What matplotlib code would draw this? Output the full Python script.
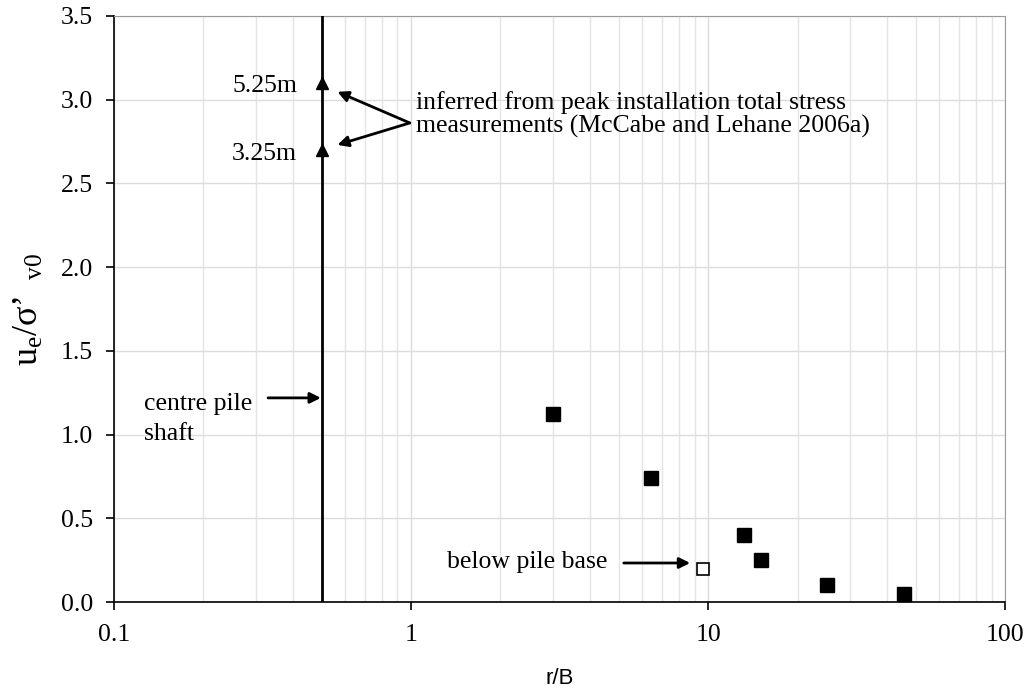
import matplotlib
matplotlib.use("Agg")
import matplotlib.pyplot as plt
from matplotlib.ticker import LogLocator, FixedLocator, FuncFormatter

plt.rcParams['font.family'] = ['Liberation Serif', 'DejaVu Serif']
plt.rcParams['mathtext.fontset'] = 'custom'
plt.rcParams['mathtext.rm'] = 'Liberation Serif'
plt.rcParams['mathtext.it'] = 'Liberation Serif:italic'

# Excess pore pressure around the pile (closed) and below the pile base (open)
r_over_b = [3.0, 6.4, 13.2, 15.1, 25.2, 45.6]
ue_ratio = [1.12, 0.74, 0.40, 0.25, 0.10, 0.05]
base_r_over_b = [9.6]
base_ue_ratio = [0.20]

# Values inferred from peak installation total stress at the pile shaft
shaft_r_over_b = [0.5, 0.5]
shaft_ue_ratio = [3.10, 2.70]
shaft_depths = ['5.25m', '3.25m']

FS = 18.5

fig = plt.figure(figsize=(10.32, 6.93), dpi=100)
ax = fig.add_axes([0.1105, 0.1313, 0.8635, 0.8457])

ax.set_xscale('log')
ax.set_xlim(0.1, 100)
ax.set_ylim(0, 3.5)

ax.xaxis.set_major_locator(LogLocator(base=10))
ax.xaxis.set_minor_locator(LogLocator(base=10, subs=range(2, 10)))
ax.xaxis.set_major_formatter(FuncFormatter(lambda v, p: f"{v:g}"))
ax.xaxis.set_minor_formatter(FuncFormatter(lambda v, p: ""))
ax.yaxis.set_major_locator(FixedLocator([0, 0.5, 1.0, 1.5, 2.0, 2.5, 3.0, 3.5]))
ax.yaxis.set_major_formatter(FuncFormatter(lambda v, p: f"{v:.1f}"))

ax.grid(True, which='major', color='#dcdcdc', lw=1.0)
ax.grid(True, which='minor', axis='x', color='#e4e4e4', lw=1.0)
ax.set_axisbelow(True)

for side in ['top', 'right']:
    ax.spines[side].set_color('#9a9a9a')
for side in ['left', 'bottom']:
    ax.spines[side].set_color('black')
    ax.spines[side].set_linewidth(1.2)

ax.tick_params(axis='both', which='major', direction='out', length=6, width=1.2,
               labelsize=FS)
ax.tick_params(axis='y', which='major', pad=9)
ax.tick_params(axis='x', which='major', pad=10)
ax.tick_params(axis='x', which='minor', length=0)

# pile shaft line
ax.plot([0.5, 0.5], [0, 3.5], color='black', lw=2.0, zorder=3)
ax.plot(shaft_r_over_b, shaft_ue_ratio, linestyle='none', marker='^',
        color='black', markersize=9, zorder=4, clip_on=False)
for y, lab in zip([3.047, 2.64], shaft_depths):
    ax.text(0.413, y, lab, ha='right', va='baseline', fontsize=FS)

ax.plot(r_over_b, ue_ratio, linestyle='none', marker='s', color='black',
        markersize=9.5, zorder=4)
ax.plot(base_r_over_b, base_ue_ratio, linestyle='none', marker='s',
        markerfacecolor='white', markeredgecolor='black', markeredgewidth=1.2,
        markersize=8.5, zorder=4)

arrow = dict(arrowstyle='-|>', color='black', lw=2.0, mutation_scale=16,
             shrinkA=0, shrinkB=0)
ax.annotate('', xy=(0.565, 3.047), xytext=(0.99, 2.861), arrowprops=arrow)
ax.annotate('', xy=(0.565, 2.73), xytext=(0.99, 2.861), arrowprops=arrow)
ax.text(1.04, 2.945, 'inferred from peak installation total stress',
        ha='left', va='baseline', fontsize=FS)
ax.text(1.04, 2.802, 'measurements (McCabe and Lehane 2006a)',
        ha='left', va='baseline', fontsize=FS)

ax.annotate('', xy=(0.497, 1.219), xytext=(0.33, 1.219), arrowprops=arrow)
ax.text(0.126, 1.147, 'centre pile', ha='left', va='baseline', fontsize=FS)
ax.text(0.126, 0.968, 'shaft', ha='left', va='baseline', fontsize=FS)

ax.annotate('', xy=(8.7, 0.233), xytext=(5.2, 0.233), arrowprops=arrow)
ax.text(4.57, 0.203, 'below pile base', ha='right', va='baseline', fontsize=FS)

ax.set_xlabel('r/B', family=['Liberation Sans'], fontsize=16, labelpad=16)
ax.set_ylabel(r"u$_{\mathrm{e}}$/σ’$\;\;_{\mathrm{v0}}$", fontsize=26, labelpad=11)

fig.savefig('out.png', dpi=100)
